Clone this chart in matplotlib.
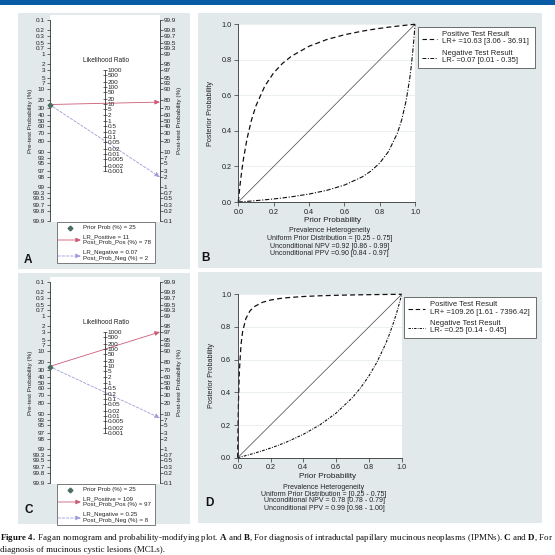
import numpy as np
import matplotlib
matplotlib.use('Agg')
import matplotlib.pyplot as plt
from matplotlib.patches import Rectangle
from matplotlib.ticker import NullLocator
from matplotlib import font_manager

names = {f.name for f in font_manager.fontManager.ttflist}
SANS = 'Liberation Sans' if 'Liberation Sans' in names else 'DejaVu Sans'
NARROW = 'Liberation Sans Narrow' if 'Liberation Sans Narrow' in names else SANS
SERIF = 'Liberation Serif' if 'Liberation Serif' in names else 'DejaVu Serif'
plt.rcParams['font.family'] = [SANS, 'DejaVu Sans']
plt.rcParams['mathtext.fontset'] = 'custom'
plt.rcParams['mathtext.rm'] = SERIF
plt.rcParams['mathtext.bf'] = SERIF + ':bold'
plt.rcParams['mathtext.it'] = SERIF + ':italic'

# ---------------- data ----------------
prior_prob = 25
lr_positive = [11, 109]
post_prob_pos = [78, 97]
lr_negative = [0.07, 0.25]
post_prob_neg = [2, 8]

prob_ticks = [0.1, 0.2, 0.3, 0.5, 0.7, 1, 2, 3, 5, 7, 10, 20, 30, 40, 50, 60,
              70, 80, 90, 93, 95, 97, 98, 99, 99.3, 99.5, 99.7, 99.8, 99.9]
lr_ticks = [1000, 500, 200, 100, 50, 20, 10, 5, 2, 1, 0.5, 0.2, 0.1, 0.05,
            0.02, 0.01, 0.005, 0.002, 0.001]

prior_grid = [0, 0.001, 0.002, 0.003, 0.005, 0.01, 0.02, 0.03, 0.05, 0.075,
              0.1, 0.15, 0.2, 0.25, 0.3, 0.4, 0.5, 0.6, 0.7, 0.75, 0.8, 0.85,
              0.9, 0.925, 0.95, 0.97, 0.98, 0.99, 0.995, 1.0]
b_pos = [0, 0.0105, 0.0209, 0.0310, 0.0507, 0.0970, 0.1783, 0.2474, 0.3588,
         0.4629, 0.5415, 0.6523, 0.7266, 0.7799, 0.8200, 0.8763, 0.9140,
         0.9410, 0.9612, 0.9696, 0.9770, 0.9837, 0.9897, 0.9924, 0.9951,
         0.9971, 0.9981, 0.9991, 0.9995, 1.0]
b_neg = [0, 0.0001, 0.0001, 0.0002, 0.0004, 0.0007, 0.0014, 0.0022, 0.0037,
         0.0056, 0.0077, 0.0122, 0.0172, 0.0228, 0.0291, 0.0446, 0.0654,
         0.0950, 0.1404, 0.1736, 0.2188, 0.2840, 0.3865, 0.4633, 0.5708,
         0.6936, 0.7743, 0.8739, 0.9330, 1.0]
d_pos = [0, 0.0986, 0.1796, 0.2474, 0.3544, 0.5246, 0.6904, 0.7716, 0.8519,
         0.8986, 0.9239, 0.9507, 0.9647, 0.9733, 0.9791, 0.9865, 0.9909,
         0.9939, 0.9961, 0.9970, 0.9977, 0.9984, 0.9990, 0.9993, 0.9995,
         0.9997, 0.9998, 0.9999, 1.0, 1.0]
d_neg = [0, 0.0003, 0.0005, 0.0008, 0.0013, 0.0025, 0.0051, 0.0077, 0.0130,
         0.0199, 0.0270, 0.0423, 0.0588, 0.0769, 0.0968, 0.1429, 0.2000,
         0.2727, 0.3684, 0.4286, 0.5000, 0.5862, 0.6923, 0.7551, 0.8261,
         0.8899, 0.9245, 0.9612, 0.9803, 1.0]
diag = [0, 1]
pm_ticks = [0.0, 0.2, 0.4, 0.6, 0.8, 1.0]

b_legend = ["Positive Test Result", "LR+ =10.63 [3.06 - 36.91]",
            "Negative Test Result", "LR- =0.07 [0.01 - 0.35]"]
d_legend = ["Positive Test Result", "LR+ =109.26 [1.61 - 7396.42]",
            "Negative Test Result", "LR- =0.25 [0.14 - 0.45]"]
b_notes = ["Prevalence Heterogeneity", "Uniform Prior Distribution = [0.25 - 0.75]",
           "Unconditional NPV =0.92 [0.86 - 0.99]", "Unconditional PPV =0.90 [0.84 - 0.97]"]
d_notes = ["Prevalence Heterogeneity", "Uniform Prior Distribution = [0.25 - 0.75]",
           "Unconditional NPV = 0.78 [0.78 - 0.79]", "Unconditional PPV = 0.99 [0.98 - 1.00]"]

caption1 = (r'$\mathbf{Figure\ 4.}$ Fagan nomogram and probability-modifying plot. '
            r'$\mathbf{A}$ and $\mathbf{B}$, For diagnosis of intraductal papillary mucinous '
            r'neoplasms (IPMNs). $\mathbf{C}$ and $\mathbf{D}$, For')
caption2 = 'diagnosis of mucinous cystic lesions (MCLs).'

# ---------------- styling ----------------
W = H = 555
PANEL = '#e1e9eb'
BLUE = '#0a5ba5'
AX = '#333333'
TX = '#222222'
RED = '#cc5b75'
LAV = '#9d99dc'
GREEN = '#4d6b60'
ARROW = '-|>,head_length=0.5,head_width=0.22'
MS = 6

fig = plt.figure(figsize=(5.55, 5.55), dpi=100)
fig.patch.set_facecolor('white')


def rect(x0, y0, x1, y1):
    return [x0 / W, 1 - y1 / H, (x1 - x0) / W, (y1 - y0) / H]


bg = fig.add_axes([0, 0, 1, 1], zorder=-10)
bg.set_xlim(0, W); bg.set_ylim(H, 0); bg.axis('off')
bg.add_patch(Rectangle((0, 0), W, 4.5, fc=BLUE, ec='none'))
for (x0, y0, x1, y1) in [(18, 13, 190, 269), (198, 13, 542, 268),
                         (18, 273, 190, 524), (198, 272, 542, 523)]:
    bg.add_patch(Rectangle((x0, y0), x1 - x0, y1 - y0, fc=PANEL, ec='none'))

ov = fig.add_axes([0, 0, 1, 1], zorder=10)
ov.set_xlim(0, W); ov.set_ylim(H, 0); ov.axis('off')
ov.patch.set_alpha(0)


def nomogram(top, i, letter, lxy):
    half = np.log(999.0)
    k = 201.0 / (2 * half)
    u_top = -half - 5.0 / k
    u_bot = half + 1.0 / k
    lo = 1.0 / (1.0 + np.exp(-u_top))
    hi = 1.0 / (1.0 + np.exp(-u_bot))
    ax = fig.add_axes(rect(49.5, top - 5, 160, top + 202))
    ax.set_facecolor('white')
    ax.set_xlim(0, 1)
    ax.set_yscale('logit')
    ax.set_ylim(hi, lo)
    ax.set_xticks([])
    for s in ('top', 'right', 'bottom'):
        ax.spines[s].set_visible(False)
    ax.spines['left'].set_color(AX)
    ax.spines['left'].set_linewidth(0.6)
    ax.spines['left'].set_bounds(0.001, 0.999)
    ax.set_yticks([v / 100 for v in prob_ticks], labels=[f'{v:g}' for v in prob_ticks])
    ax.yaxis.set_minor_locator(NullLocator())
    ax.tick_params(axis='y', direction='out', length=2.5, width=0.5, pad=0.8,
                   labelsize=4.6, color=AX, labelcolor=TX)
    for t in ax.get_yticklabels():
        t.set_fontfamily(NARROW)

    ax2 = ax.twinx()
    ax2.set_yscale('logit')
    ax2.set_ylim(1 - hi, 1 - lo)
    for s in ('top', 'left', 'bottom'):
        ax2.spines[s].set_visible(False)
    ax2.spines['right'].set_color(AX)
    ax2.spines['right'].set_linewidth(0.6)
    ax2.spines['right'].set_bounds(0.001, 0.999)
    ax2.set_yticks([v / 100 for v in prob_ticks], labels=[f'{v:g}' for v in prob_ticks])
    ax2.yaxis.set_minor_locator(NullLocator())
    ax2.tick_params(axis='y', direction='out', length=1.8, width=0.5, pad=0.6,
                    labelsize=4.6, color=AX, labelcolor=TX)
    for t in ax2.get_yticklabels():
        t.set_fontfamily(NARROW)

    ax3 = ax.twinx()
    ax3.set_yscale('log')
    ax3.set_ylim(((1 - hi) / hi) ** 2, ((1 - lo) / lo) ** 2)
    for s in ('top', 'left', 'bottom'):
        ax3.spines[s].set_visible(False)
    ax3.spines['right'].set_position(('axes', 0.5))
    ax3.spines['right'].set_color(AX)
    ax3.spines['right'].set_linewidth(0.6)
    ax3.spines['right'].set_bounds(min(lr_ticks), max(lr_ticks))
    ax3.set_yticks(lr_ticks, labels=[f'{v:g}' for v in lr_ticks])
    ax3.yaxis.set_minor_locator(NullLocator())
    ax3.tick_params(axis='y', direction='inout', length=3, width=0.5, pad=0.5,
                    labelsize=4.6, color=AX, labelcolor=TX)
    for t in ax3.get_yticklabels():
        t.set_fontfamily(NARROW)

    p0 = prior_prob / 100
    ax.annotate('', xy=(1, 1 - post_prob_pos[i] / 100), xytext=(0, p0),
                arrowprops=dict(arrowstyle=ARROW, mutation_scale=MS,
                                color=RED, lw=0.6, shrinkA=0, shrinkB=0),
                annotation_clip=False)
    ax.annotate('', xy=(1, 1 - post_prob_neg[i] / 100), xytext=(0, p0),
                arrowprops=dict(arrowstyle=ARROW, mutation_scale=MS,
                                color=LAV, lw=0.6, ls=(0, (3, 2)), shrinkA=0, shrinkB=0),
                annotation_clip=False)
    ax.plot([0], [p0], 'D', ms=2.4, color=GREEN, clip_on=False, zorder=6)

    ov.text(30.5, top + 100.5, 'Pre-test Probability (%)', rotation=90, ha='center',
            va='center', fontsize=4.5, color=TX)
    ov.text(179.5, top + 100.5, 'Post-test Probability (%)', rotation=90, ha='center',
            va='center', fontsize=4.5, color=TX)
    ov.text(106, top + 40, 'Likelihood Ratio', ha='center', va='center',
            fontsize=4.7, color=TX)

    # legend
    ov.add_patch(Rectangle((57, top + 201.5), 98, 41.5, fc='white', ec='#666666', lw=0.6))
    ov.plot([70], [top + 208], 'D', ms=2.4, color=GREEN)
    ov.text(83, top + 208, f'Prior Prob (%) = {prior_prob}', va='center', fontsize=4.4, color=TX)
    ov.annotate('', xy=(81, top + 220), xytext=(58, top + 220),
                arrowprops=dict(arrowstyle=ARROW, mutation_scale=MS,
                                color=RED, lw=0.6, shrinkA=0, shrinkB=0))
    ov.text(83, top + 216.8, f'LR_Positive = {lr_positive[i]:g}', va='center', fontsize=4.4, color=TX)
    ov.text(83, top + 222.2, f'Post_Prob_Pos (%) = {post_prob_pos[i]:g}', va='center',
            fontsize=4.4, color=TX)
    ov.annotate('', xy=(81, top + 236), xytext=(58, top + 236),
                arrowprops=dict(arrowstyle=ARROW, mutation_scale=MS,
                                color=LAV, lw=0.6, ls=(0, (3, 2)), shrinkA=0, shrinkB=0))
    ov.text(83, top + 232.8, f'LR_Negative = {lr_negative[i]:g}', va='center', fontsize=4.4, color=TX)
    ov.text(83, top + 238.2, f'Post_Prob_Neg (%) = {post_prob_neg[i]:g}', va='center',
            fontsize=4.4, color=TX)

    ov.text(lxy[0], lxy[1], letter, ha='center', va='center', fontsize=8.5,
            fontweight='bold', color='#111111')


def prob_plot(cfg):
    ax = fig.add_axes(rect(*cfg['box']))
    ax.set_facecolor('white')
    ax.set_xlim(0, 1); ax.set_ylim(0, 1)
    for s in ('top', 'right'):
        ax.spines[s].set_visible(False)
    for s in ('left', 'bottom'):
        ax.spines[s].set_color(AX)
        ax.spines[s].set_linewidth(0.6)
    ax.set_xticks(pm_ticks, labels=[f'{v:.1f}' for v in pm_ticks])
    ax.set_yticks(pm_ticks, labels=[f'{v:.1f}' for v in pm_ticks])
    ax.tick_params(direction='out', length=3.2, width=0.5, pad=1.5, labelsize=5.2,
                   color=AX, labelcolor=TX)
    ax.yaxis.grid(True, color='#e6edef', lw=0.6)
    ax.set_axisbelow(True)
    ax.plot(diag, diag, color='#444444', lw=0.5)
    ax.plot(prior_grid, cfg['pos'], color='#111111', lw=0.9, ls=(0, (4, 2.5)), clip_on=False)
    ax.plot(prior_grid, cfg['neg'], color='#111111', lw=0.8, ls=cfg['negls'], clip_on=False)

    lx0, ly0, lx1, ly1 = cfg['legbox']
    ov.add_patch(Rectangle((lx0, ly0), lx1 - lx0, ly1 - ly0, fc='white', ec='#555555', lw=0.6))
    sx0, sx1 = cfg['sample_x']
    ov.plot([sx0, sx1], [cfg['sample_y'][0]] * 2, color='#111111', lw=0.8, ls=(0, (4, 2.5)))
    ov.plot([sx0, sx1], [cfg['sample_y'][1]] * 2, color='#111111', lw=0.7, ls=cfg['negls'])
    for txt, yy in zip(cfg['legend'], cfg['leg_rows']):
        ov.text(cfg['leg_x'], yy, txt, va='center', ha='left', fontsize=5.5, color=TX)

    ov.text(cfg['ylab'][0], cfg['ylab'][1], 'Posterior Probability', rotation=90,
            ha='center', va='center', fontsize=5.2, color=TX)
    ov.text(cfg['xlab'][0], cfg['xlab'][1], 'Prior Probability', ha='center',
            va='center', fontsize=5.9, color=TX)
    for txt, yy in zip(cfg['notes'], cfg['notes_y']):
        ov.text(cfg['notes_x'], yy, txt, ha='center', va='center', fontsize=5.0, color=TX)
    ov.text(cfg['letter_xy'][0], cfg['letter_xy'][1], cfg['letter'], ha='center',
            va='center', fontsize=8.5, fontweight='bold', color='#111111')


nomogram(20, 0, 'A', (27.5, 260))
nomogram(282, 1, 'C', (29, 510))

prob_plot(dict(box=(238.3, 24.3, 415, 202), pos=b_pos, neg=b_neg,
               negls=(0, (4, 1.5, 1, 1.5)),
               legbox=(417.7, 26.7, 535, 68.3), legend=b_legend,
               leg_x=441.5, leg_rows=[34.3, 41.8, 53.3, 60.8],
               sample_x=(421.7, 436.7), sample_y=[38.5, 57.5],
               ylab=(210, 113), xlab=(332.5, 220), notes_x=329.5,
               notes=b_notes, notes_y=[231, 238.5, 246, 253.3],
               letter='B', letter_xy=(206, 258)))
prob_plot(dict(box=(237.7, 294.3, 401.7, 457.7), pos=d_pos, neg=d_neg,
               negls=(0, (2.5, 1.2, 0.8, 1.2)),
               legbox=(404.3, 297.3, 535.7, 338.3), legend=d_legend,
               leg_x=430, leg_rows=[305, 312.3, 323.3, 331],
               sample_x=(408.3, 425), sample_y=[309.3, 327.7],
               ylab=(211.7, 376), xlab=(327.3, 476.7), notes_x=324,
               notes=d_notes, notes_y=[487.5, 494, 501, 508.3],
               letter='D', letter_xy=(209.5, 503)))

ov.text(0.5, 538, caption1, ha='left', va='center', fontsize=6.5, color='#111111',
        fontfamily=SERIF, clip_on=False)
ov.text(0.5, 550, caption2, ha='left', va='center', fontsize=6.5, color='#111111',
        fontfamily=SERIF, clip_on=False)

fig.savefig('out.png', dpi=100, facecolor='white')
